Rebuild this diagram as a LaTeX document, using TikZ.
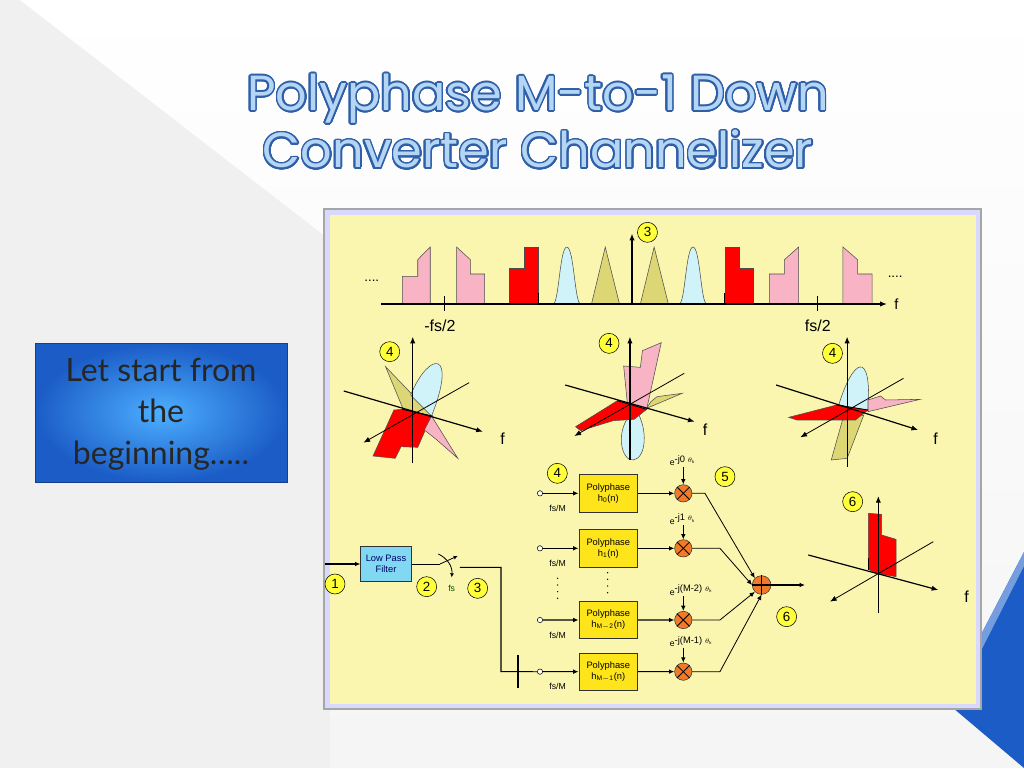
\documentclass[tikz,border=0pt]{standalone}
\usepackage{fontspec}
\setmainfont{Liberation Sans}
\newfontfamily\titlefont{Poppins}
\newfontfamily\boxfont{Lato}
\usepackage[copies]{contour}
\contourlength{1.2pt}
\contournumber{24}
\usetikzlibrary{arrows.meta,shapes.geometric}
\definecolor{panel}{HTML}{FAF6B0}
\definecolor{pinkc}{HTML}{F8B4C4}
\definecolor{lblue}{HTML}{CFF3F8}
\definecolor{yelc}{HTML}{DCD675}
\definecolor{numy}{HTML}{FFFF3A}
\definecolor{mixc}{HTML}{F07A28}
\definecolor{lpf}{HTML}{80D8F2}
\definecolor{titlec}{HTML}{B4D6F4}
\definecolor{titleo}{HTML}{2F5FA8}
\definecolor{cornerb}{HTML}{1B5CC6}
\tikzset{
  ax/.style={line width=0.9pt,-{Latex[length=5pt,width=4pt]}},
  ln/.style={line width=0.6pt},
  shp/.style={draw=black!70,line width=0.4pt},
  numc/.style={circle,draw=black,fill=numy,inner sep=0pt,minimum size=15pt,font=\fontsize{10}{10}\selectfont},
  pbox/.style={draw=black!80,fill=yellow!85!orange!90,line width=0.7pt,minimum width=44pt,minimum height=28pt,inner sep=1pt,align=center,font=\fontsize{7}{8}\selectfont},
  mix/.style={circle,draw=black!80,fill=mixc,minimum size=13pt,inner sep=0pt},
  smallc/.style={circle,draw=black,fill=white,inner sep=0pt,minimum size=4pt},
  lab/.style={font=\fontsize{6.5}{7}\selectfont,inner sep=1pt},
  sig/.style={line width=0.8pt,-{Latex[length=4pt,width=3.5pt]}},
}
\begin{document}
\begin{tikzpicture}[x=0.75pt,y=-0.75pt]
\useasboundingbox (0,0) rectangle (1024,768);
% background
\fill[black!6] (0,0) rectangle (1024,768);
\shade[top color=white,bottom color=black!4] (20,0) -- (1024,0) -- (1024,768) -- (330,768) -- (330,240) -- cycle;
\fill[cornerb] (1024,552) -- (946,702) -- (1024,768) -- cycle;
\fill[cornerb!60!white] (1024,552) -- (1024,566) -- (956,700) -- (946,702) -- cycle;
% title
\node[font=\titlefont\fontsize{37}{45}\selectfont,text=titlec,align=center] (title) at (538,122) {\contour{titleo}{Polyphase M-to-1 Down}\\[-2pt]\contour{titleo}{Converter Channelizer}};
% blue box
\shade[inner color=blue!45!cyan!70!white,outer color=cornerb,draw=cornerb!70!black] (35,343) rectangle (287,482);
\node[font=\boxfont\fontsize{24}{31}\selectfont,align=center,text=black!85] (intro) at (161,414) {Let start from\\the\\beginning…..};
% panel
\fill[black!35] (323,208) rectangle (982,710);
\fill[white!85!blue] (325,210) rectangle (980,708);
\fill[panel] (330,215) rectangle (976,704);

% ---------------- spectrum
\begin{scope}[shift={(325,203)},xscale=0.4177,yscale=0.3333]
\fill[pinkc,shp] (185,303)--(185,220)--(222,220)--(222,170)--(252,132)--(252,303)--cycle;
\fill[pinkc,shp] (315,303)--(315,132)--(348,170)--(348,213)--(382,213)--(382,303)--cycle;
\fill[red,shp] (442,303)--(442,197)--(478,197)--(478,132)--(510,132)--(510,303)--cycle;
\fill[lblue,shp] (546,303) .. controls (560,303) and (562,132) .. (579,132) .. controls (596,132) and (598,303) .. (612,303);
\fill[yelc,shp] (638,303)--(671,132)--(705,303)--cycle;
\fill[yelc,shp] (755,303)--(788,132)--(822,303)--cycle;
\fill[lblue,shp] (848,303) .. controls (862,303) and (864,132) .. (881,132) .. controls (898,132) and (900,303) .. (914,303);
\fill[red,shp] (958,303)--(958,132)--(992,132)--(992,197)--(1026,197)--(1026,303)--cycle;
\fill[pinkc,shp] (1064,303)--(1064,213)--(1100,213)--(1100,170)--(1134,132)--(1134,303)--cycle;
\fill[pinkc,shp] (1240,303)--(1240,132)--(1275,170)--(1275,213)--(1310,213)--(1310,303)--cycle;
\draw[line width=0.8pt] (512,270)--(512,303) (956,270)--(956,303);
\coordinate (sa0) at (135,303); \coordinate (sa1) at (1345,303);
\coordinate (sv0) at (735,303); \coordinate (sv1) at (735,92);
\draw[ax] (sa0)--(sa1);
\draw[ax] (sv0)--(sv1);
\draw[line width=0.8pt] (285,280)--(285,325) (1180,280)--(1180,325);
\node[lab,font=\fontsize{11}{11}\selectfont] (sf) at (1368,303) {f};
\node[font=\fontsize{12}{12}\selectfont] (mfs) at (275,368) {-fs/2};
\node[font=\fontsize{12}{12}\selectfont] (pfs) at (1180,368) {fs/2};
\node[font=\fontsize{10}{10}\selectfont] (dl) at (112,232) {....};
\node[font=\fontsize{10}{10}\selectfont] (dr) at (1365,222) {....};
\node[numc] (n3) at (772,88) {3};
\end{scope}

% ---------------- 3D plots
\begin{scope}[shift={(325,330)},xscale=0.4177,yscale=0.3333]
% plot 1
\fill[yelc,shp] (145,110)--(258,258)--(188,240)--cycle;
\fill[lblue,shp] (205,195) .. controls (250,60) and (318,60) .. (255,258) -- cycle;
\fill[red,shp] (185,238)--(255,258)--(222,352)--(182,350)--(168,385)--(115,378)--(165,240)--cycle;
\fill[pinkc,shp] (255,258)--(318,385)--(268,330)--(238,300)--cycle;
\draw[ln,black] (185,238)--(255,258);
\draw[ax] (210,400)--(210,20);
\draw[ax] (45,183)--(378,305);
\draw[ln,-{Latex[length=5pt,width=4pt]}] (345,158)--(92,338);
\node[font=\fontsize{12}{12}\selectfont] (f1) at (425,325) {f};
\node[numc] (n4a) at (155,65) {4};
% plot 2
\fill[lblue,shp] (740,240) .. controls (690,300) and (710,395) .. (738,390) .. controls (768,385) and (775,300) .. (745,240) -- cycle;
\fill[pinkc,shp] (725,235)--(715,108)--(755,112)--(760,62)--(805,38)--(770,238)--cycle;
\fill[yelc,shp] (770,235)--(855,190)--(795,200)--(780,215)--cycle;
\fill[red,shp] (700,212)--(770,238)--(740,268)--(690,272)--(612,302)--(600,290)--cycle;
\draw[ln] (700,212)--(770,238);
\draw[ax] (730,390)--(730,20);
\draw[ax] (575,165)--(885,275);
\draw[ln,-{Latex[length=5pt,width=4pt]}] (860,130)--(597,318);
\node[font=\fontsize{12}{12}\selectfont] (f2) at (910,298) {f};
\node[numc] (n4b) at (680,40) {4};
% plot 3
\fill[yelc,shp] (1240,265)--(1290,255)--(1250,385)--(1212,390)--cycle;
\fill[lblue,shp] (1230,225) .. controls (1262,90) and (1310,50) .. (1300,242) -- cycle;
\fill[pinkc,shp] (1300,210)--(1330,198)--(1342,210)--(1425,208)--(1300,245)--cycle;
\fill[red,shp] (1225,225)--(1300,240)--(1270,270)--(1130,270)--(1110,262)--cycle;
\draw[ln] (1225,225)--(1300,240);
\draw[ax] (1250,410)--(1250,20);
\draw[ax] (1080,165)--(1420,300);
\draw[ln,-{Latex[length=5pt,width=4pt]}] (1385,145)--(1138,322);
\node[font=\fontsize{12}{12}\selectfont] (f3) at (1462,325) {f};
\node[numc] (n4c) at (1215,70) {4};
\end{scope}

% ---------------- block diagram
\begin{scope}[shift={(325,460)},scale=0.3333]
\coordinate (in) at (0,312);
\node[draw=black!80,fill=lpf,minimum width=38pt,minimum height=26pt,align=center,inner sep=1pt,font=\fontsize{7}{8}\selectfont,text=blue!40!black] (lpfb) at (183,312) {Low Pass\\Filter};
\draw[sig,line width=1.2pt] (in)--(lpfb.west);
\node[numc] (n1) at (30,372) {1};
\coordinate (sw0) at (345,312);
\coordinate (sw1) at (398,288);
\coordinate (swa) at (340,282);
\coordinate (swb) at (380,352);
\draw[ln] (lpfb.east)--(sw0);
\draw[ln,-{Latex[length=3pt,width=3pt]}] (sw0)--(sw1);
\draw[ln,-{Latex[length=3pt,width=3pt]}] (swa) to[bend left=35] (swb);
\node[lab,text=green!30!black] (fsl) at (380,385) {fs};
\node[numc] (n2) at (305,380) {2};
\node[numc] (n3b) at (458,385) {3};
\coordinate (c1) at (405,322);
\coordinate (c2) at (528,322);
\coordinate (c3) at (528,635);
\draw[ln,line width=0.8pt] (c1)--(c2)--(c3)--(625,635);
\draw[line width=1.4pt] (578,585)--(578,685);
\foreach \r/\yy/\sub/\lab/\ly in {0/100/0/{e$^{\mbox{\scriptsize -j0 }\theta_{\mathrm k}}$}/2, 1/265/1/{e$^{\mbox{\scriptsize -j1 }\theta_{\mathrm k}}$}/178, 2/480/{M-2}/{e$^{\mbox{\scriptsize -j(M-2) }\theta_{\mathrm k}}$}/390, 3/635/{M-1}/{e$^{\mbox{\scriptsize -j(M-1) }\theta_{\mathrm k}}$}/545}{
  \node[smallc] (s\r) at (645,\yy) {};
  \node[pbox] (p\r) at (850,\yy) {Polyphase\\h$_{\mathrm{\sub}}$(n)};
  \node[mix] (m\r) at (1075,\yy) {};
  \draw[line width=0.6pt] (m\r.north west)--(m\r.south east) (m\r.north east)--(m\r.south west);
  \draw[sig] (s\r)--(p\r);
  \draw[sig] (p\r)--(m\r);
  \node[lab,anchor=west] (e\r) at (1030,\ly) {\lab};
  \coordinate (ea\r) at (1075,\ly+18);
  \draw[sig] (ea\r)--(m\r.north);
  \node[lab] (fm\r) at (698,\yy+45) {fs/M};
}
\draw[ln] (625,635)--(s3);
\node[circle,draw=black!80,fill=mixc,minimum size=14pt,inner sep=0pt] (add) at (1310,375) {};
\draw[line width=0.8pt] (add.north)--(add.south) (add.west)--(add.east);
\draw[sig,line width=0.6pt] (m0.east)--(1140,100)--(add.north west);
\draw[sig,line width=0.6pt] (m1.east)--(1185,265)--(add.west);
\draw[sig,line width=0.6pt] (m2.east)--(1185,480)--(add.south west);
\draw[sig,line width=0.6pt] (m3.east)--(1185,635)--(add.south);
\coordinate (out) at (1440,375);
\draw[sig] (add.east)--(out);
\foreach \yy in {355,375,395,415} {\fill (698,\yy) circle (2.2);}
\foreach \yy in {338,358,378,398} {\fill (848,\yy) circle (2.2);}
\node[numc] (n4d) at (697,40) {4};
\node[numc] (n5) at (1200,50) {5};
\node[numc] (n6a) at (1385,470) {6};
\end{scope}

% output spectrum
\begin{scope}[shift={(780,480)},scale=0.3333]
\fill[red,shp] (265,100)--(305,103)--(305,165)--(348,178)--(348,290)--(290,280)--(265,268)--cycle;
\draw[line width=0.8pt] (265,235)--(265,270);
\draw[ax] (295,400)--(295,48);
\draw[ax] (85,225)--(475,330);
\draw[ln,-{Latex[length=5pt,width=4pt]}] (460,185)--(150,365);
\node[font=\fontsize{12}{12}\selectfont] (f4) at (560,350) {f};
\node[numc] (n6b) at (218,65) {6};
\end{scope}
\end{tikzpicture}
\end{document}
